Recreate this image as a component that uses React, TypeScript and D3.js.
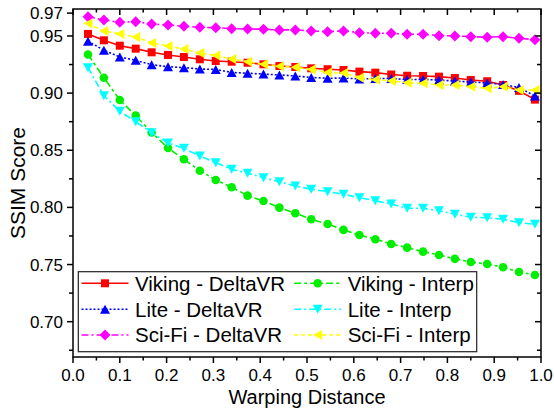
import { useEffect, useRef } from "react";
import * as d3 from "d3";

// warping distance of each sample
const warpDist = [
  0.032, 0.066, 0.1, 0.134, 0.168, 0.203, 0.237, 0.271, 0.305, 0.339,
  0.373, 0.407, 0.441, 0.475, 0.509, 0.544, 0.578, 0.612, 0.646, 0.68,
  0.714, 0.748, 0.782, 0.816, 0.85, 0.885, 0.919, 0.953, 0.987,
];

const vikingDelta = [
  0.9518, 0.9462, 0.9415, 0.9389, 0.9357, 0.9334, 0.9316, 0.9296, 0.9281, 0.9275,
  0.9266, 0.9252, 0.9237, 0.9229, 0.9217, 0.9209, 0.9202, 0.9188, 0.9179, 0.9163,
  0.9152, 0.915, 0.9144, 0.9132, 0.9115, 0.9104, 0.9071, 0.902, 0.8943,
];
const liteDelta = [
  0.9454, 0.9375, 0.9316, 0.9287, 0.9249, 0.9231, 0.9223, 0.9211, 0.9207, 0.9181,
  0.9174, 0.9167, 0.9159, 0.915, 0.9137, 0.913, 0.9132, 0.9124, 0.9128, 0.9128,
  0.9119, 0.9119, 0.9115, 0.9106, 0.9097, 0.9089, 0.9076, 0.9049, 0.8975,
];
const scifiDelta = [
  0.9669, 0.964, 0.962, 0.9625, 0.9605, 0.9596, 0.9585, 0.9576, 0.9573, 0.9564,
  0.9561, 0.9559, 0.9553, 0.9553, 0.9544, 0.9538, 0.9544, 0.9529, 0.9524, 0.9524,
  0.9515, 0.9515, 0.9503, 0.95, 0.9494, 0.9489, 0.9494, 0.948, 0.9468,
];
const vikingInterp = [
  0.9338, 0.9135, 0.894, 0.8803, 0.8656, 0.852, 0.8421, 0.8321, 0.824, 0.8176,
  0.8103, 0.8056, 0.7998, 0.7949, 0.7896, 0.7855, 0.7803, 0.7759, 0.7721, 0.768,
  0.7648, 0.7613, 0.7584, 0.755, 0.7522, 0.7505, 0.7476, 0.7435, 0.7409,
];
const liteInterp = [
  0.9223, 0.8978, 0.8841, 0.875, 0.8654, 0.8564, 0.8517, 0.845, 0.8391, 0.8334,
  0.8299, 0.826, 0.8225, 0.8187, 0.8159, 0.8138, 0.8115, 0.8085, 0.8058, 0.803,
  0.7992, 0.7992, 0.7971, 0.794, 0.7914, 0.791, 0.7896, 0.7866, 0.7852,
];
const scifiInterp = [
  0.9609, 0.9544, 0.9518, 0.9491, 0.9439, 0.9412, 0.9386, 0.9351, 0.9329, 0.9299,
  0.9275, 0.9252, 0.9235, 0.9226, 0.9207, 0.9181, 0.9176, 0.9134, 0.9118, 0.9106,
  0.9091, 0.9086, 0.9071, 0.9071, 0.9056, 0.9042, 0.9056, 0.9027, 0.9027,
];

const seriesNames = [
  "Viking - DeltaVR",
  "Lite - DeltaVR",
  "Sci-Fi - DeltaVR",
  "Viking - Interp",
  "Lite - Interp",
  "Sci-Fi - Interp",
];
const seriesValues = [vikingDelta, liteDelta, scifiDelta, vikingInterp, liteInterp, scifiInterp];

const yTickLabels = [0.7, 0.75, 0.8, 0.85, 0.9, 0.95, 0.97];
const xTickLabels = [0, 0.1, 0.2, 0.3, 0.4, 0.5, 0.6, 0.7, 0.8, 0.9, 1.0];

// look of each series, same order as seriesNames
const colors = ["#ff0000", "#0000ff", "#ff00ff", "#00ee00", "#00ffff", "#ffff00"];
const dashes = ["none", "2,2", "7,3,2,3", "7,3,3,3", "7,3,2,3", "4,3"];
const markers = [
  "M-4,-4h8v8h-8z",
  "M0,-4.5L5,4.5L-5,4.5Z",
  "M0,-5.5L5.5,0L0,5.5L-5.5,0Z",
  "circle",
  "M0,4.5L5,-4.5L-5,-4.5Z",
  "M-4.5,0L4.5,-5L4.5,5Z",
];

const FONT = "'Liberation Sans', Arial, sans-serif";

function App() {
  const svgRef = useRef(null);
  const width = 554;
  const height = 408;
  const left = 73, right = 541, top = 9, bottom = 357;

  useEffect(() => {
    const svg = d3.select(svgRef.current);
    svg.selectAll("*").remove();

    const x = d3.scaleLinear().domain([0, 1]).range([left, right]);
    const y = d3.scaleLinear().domain([0.6691, 0.9736]).range([bottom, top]);

    const drawMarker = (g, i, cx, cy) => {
      if (markers[i] === "circle") {
        g.append("circle").attr("cx", cx).attr("cy", cy).attr("r", 4.3).attr("fill", colors[i]);
      } else {
        g.append("path")
          .attr("d", markers[i])
          .attr("transform", `translate(${cx},${cy})`)
          .attr("fill", colors[i]);
      }
    };

    // series
    const line = d3.line().x((d) => x(d[0])).y((d) => y(d[1]));
    seriesValues.forEach((vals, i) => {
      const pts = vals.map((v, j) => [warpDist[j], v]);
      const g = svg.append("g");
      g.append("path")
        .attr("d", line(pts))
        .attr("fill", "none")
        .attr("stroke", colors[i])
        .attr("stroke-width", 1.6)
        .attr("stroke-dasharray", dashes[i]);
      pts.forEach((p) => drawMarker(g, i, x(p[0]), y(p[1])));
    });

    // frame
    const axes = svg.append("g").attr("stroke", "#000").attr("stroke-width", 1.5);
    axes.append("rect")
      .attr("x", left).attr("y", top)
      .attr("width", right - left).attr("height", bottom - top)
      .attr("fill", "none");

    // x ticks (bottom outward, top inward)
    const xMinor = d3.range(0, 21).map((k) => k * 0.05);
    xMinor.forEach((t, k) => {
      const len = k % 2 === 0 ? 6 : 3.5;
      axes.append("line").attr("x1", x(t)).attr("x2", x(t)).attr("y1", bottom).attr("y2", bottom + len);
      axes.append("line").attr("x1", x(t)).attr("x2", x(t)).attr("y1", top).attr("y2", top + len);
    });

    // y ticks (left outward, right inward)
    const yMinor = d3.range(0, 12).map((k) => 0.675 + k * 0.025);
    yMinor.forEach((t, k) => {
      const len = k % 2 === 1 ? 6 : 4;
      axes.append("line").attr("x1", left - len).attr("x2", left).attr("y1", y(t)).attr("y2", y(t));
      axes.append("line").attr("x1", right - len).attr("x2", right).attr("y1", y(t)).attr("y2", y(t));
    });
    axes.append("line").attr("x1", left - 6).attr("x2", left).attr("y1", y(0.97)).attr("y2", y(0.97));

    const labels = svg.append("g").attr("font-family", FONT).attr("fill", "#000");
    labels.selectAll("text.yl")
      .data(yTickLabels)
      .join("text")
      .attr("x", left - 10)
      .attr("y", (d) => y(d) + 6)
      .attr("text-anchor", "end")
      .attr("font-size", 17)
      .text((d) => d3.format(".2f")(d));
    labels.selectAll("text.xl")
      .data(xTickLabels)
      .join("text")
      .attr("x", (d) => x(d))
      .attr("y", 381)
      .attr("text-anchor", "middle")
      .attr("font-size", 17)
      .text((d) => d3.format(".1f")(d));

    labels.append("text")
      .attr("x", (left + right) / 2)
      .attr("y", 403.5)
      .attr("text-anchor", "middle")
      .attr("font-size", 20)
      .text("Warping Distance");
    labels.append("text")
      .attr("transform", `translate(25,${(top + bottom) / 2}) rotate(-90)`)
      .attr("text-anchor", "middle")
      .attr("font-size", 21)
      .text("SSIM Score");

    // legend
    const lg = svg.append("g");
    lg.append("rect")
      .attr("x", 78.3).attr("y", 271.7)
      .attr("width", 398.4).attr("height", 80)
      .attr("fill", "#fff").attr("stroke", "#222").attr("stroke-width", 1.2);
    const rowY = [283.3, 309.3, 335];
    const colX = [105, 317.7];
    seriesNames.forEach((name, i) => {
      const cx = colX[Math.floor(i / 3)];
      const cy = rowY[i % 3];
      lg.append("line")
        .attr("x1", cx - 23.5).attr("x2", cx + 23.5)
        .attr("y1", cy).attr("y2", cy)
        .attr("stroke", colors[i]).attr("stroke-width", 1.6)
        .attr("stroke-dasharray", dashes[i]);
      drawMarker(lg, i, cx, cy);
      lg.append("text")
        .attr("x", cx + 30)
        .attr("y", cy + 7.4)
        .attr("font-family", FONT)
        .attr("font-size", 20.5)
        .attr("fill", "#000")
        .text(name);
    });
  }, []);

  return (
    <svg
      ref={svgRef}
      width={width}
      height={height}
      viewBox={`0 0 ${width} ${height}`}
      style={{ position: "absolute", left: 0, top: 0, background: "#fff" }}
    />
  );
}

export default App;
